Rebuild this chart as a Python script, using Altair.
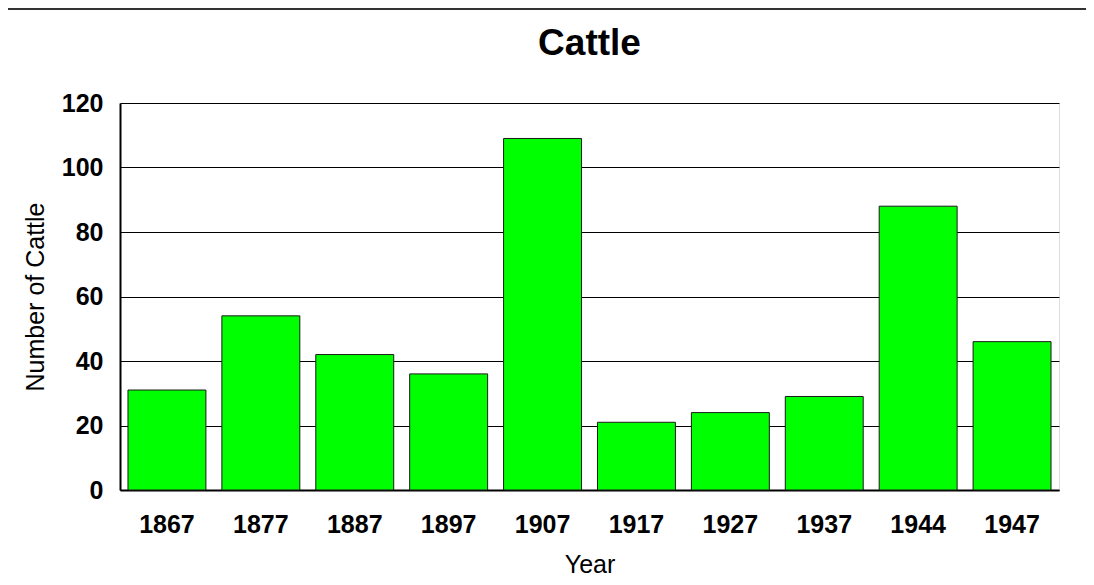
import altair as alt
import pandas as pd

years = ["1867", "1877", "1887", "1897", "1907", "1917", "1927", "1937", "1944", "1947"]
cattle = [31, 54, 42, 36, 109, 21, 24, 29, 88, 46]
title_text = "Cattle"

df = pd.DataFrame({"Year": years, "Cattle": cattle})

FONT = "Liberation Sans"

bars = alt.Chart(df).mark_bar(
    color="#00FF00", stroke="#1a1a1a", strokeWidth=1
).encode(
    x=alt.X("Year:N", sort=years,
            scale=alt.Scale(paddingInner=0.17, paddingOuter=0.085),
            axis=alt.Axis(title="Year", labelAngle=0, ticks=False, tickSize=0,
                          labelPadding=22, labelFontSize=25, labelFontWeight="bold",
                          labelFont=FONT, labelColor="#000",
                          titleFont=FONT, titleFontSize=25, titleFontWeight="normal",
                          titleColor="#000", titleBaseline="alphabetic",
                          titleY=82, titleX=469.5,
                          domainColor="#000", domainWidth=2, grid=False)),
    y=alt.Y("Cattle:Q",
            scale=alt.Scale(domain=[0, 120], nice=False),
            axis=alt.Axis(title="Number of Cattle", values=[0, 20, 40, 60, 80, 100, 120],
                          ticks=False, tickSize=0, labelPadding=17,
                          labelFontSize=25, labelFontWeight="bold", labelFont=FONT,
                          labelColor="#000",
                          titleFont=FONT, titleFontSize=25, titleFontWeight="normal",
                          titleColor="#000", titleAngle=270, titleBaseline="alphabetic",
                          titleX=-77, titleY=193.5, titleAlign="center",
                          domainColor="#000", domainWidth=2,
                          grid=True, gridColor="#000", gridWidth=1, gridOpacity=1)),
)

topline = alt.Chart(alt.Data(values=[{}])).mark_rule(
    color="#333333", strokeWidth=2
).encode(
    x=alt.value(-112), x2=alt.value(966), y=alt.value(-94)
)

title = alt.Chart(alt.Data(values=[{"t": title_text}])).mark_text(
    font=FONT, fontSize=37, fontWeight="bold", color="#000",
    align="center", baseline="alphabetic"
).encode(
    text="t:N", x=alt.value(469.5), y=alt.value(-48.5)
)

chart = alt.layer(bars, topline, title).properties(
    width=939, height=387,
    autosize=alt.AutoSizeParams(type="none"),
    padding={"left": 112, "top": 95, "right": 27, "bottom": 89},
).configure_view(
    stroke="#777777", strokeWidth=1
).configure(background="white")

chart.save("out.html", embed_options={"renderer": "svg", "actions": False})
